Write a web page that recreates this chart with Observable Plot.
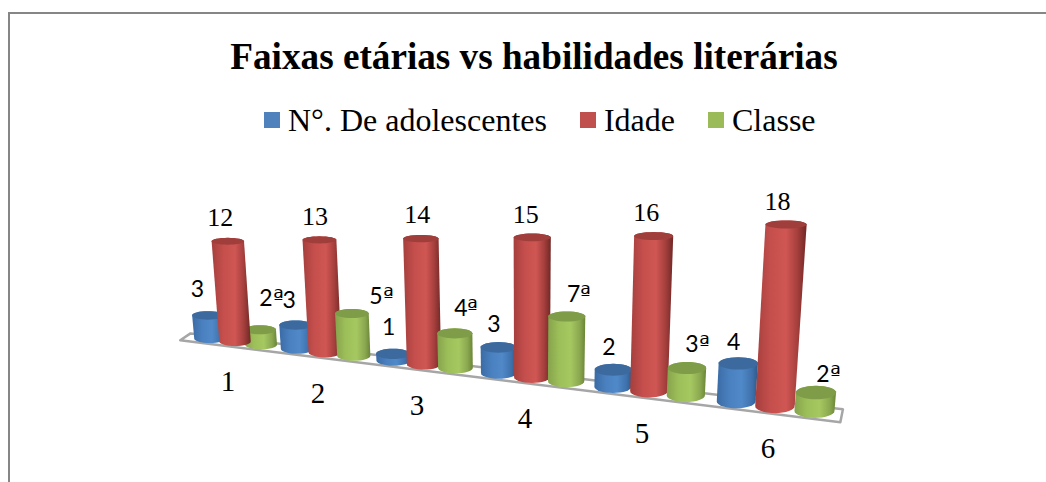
<!DOCTYPE html>
<html>
<head>
<meta charset="utf-8">
<script src="https://cdn.jsdelivr.net/npm/d3@7"></script>
<script src="https://cdn.jsdelivr.net/npm/@observablehq/plot@0.6"></script>
<style>
@font-face{font-family:"OrdMark";src:local("DejaVu Sans");unicode-range:U+AA}
html,body{margin:0;padding:0;background:#fff;overflow:hidden}
#page{position:relative;width:1046px;height:482px;overflow:hidden}
#frame{position:absolute;left:8px;top:12px;right:-4px;bottom:-4px;border:2px solid #868686}
#head{position:relative;height:150px}
#title{position:absolute;left:0;width:1068px;top:35px;text-align:center;font:bold 37.2px "Liberation Serif",serif;line-height:44px;color:#000}
#legend{position:absolute;left:264px;top:100px;display:flex;align-items:center;font:32px "Liberation Serif",serif;line-height:40px;color:#000;white-space:nowrap}
#legend i{display:inline-block;width:16px;height:16px;margin-right:8px}
#legend span{margin-right:33px}
#chart{position:relative}
</style>
</head>
<body>
<div id="page">
  <div id="frame"></div>
  <div id="head"><div id="title"></div><div id="legend"></div></div>
  <div id="chart"></div>
</div>
<script>
// ---- data ----
const titleText = "Faixas etárias vs habilidades literárias";
const categories = [1, 2, 3, 4, 5, 6];
const seriesNames = ["N°. De adolescentes", "Idade", "Classe"];
const adolescentes = [3, 3, 1, 3, 2, 4];
const idade = [12, 13, 14, 15, 16, 18];
const classe = [2, 5, 4, 7, 3, 2];
const adolescentesLabels = ["3", "3", "1", "3", "2", "4"];
const idadeLabels = ["12", "13", "14", "15", "16", "18"];
const classeLabels = ["2ª", "5ª", "4ª", "7ª", "3ª", "2ª"];

// ---- styling / layout (kept apart from the data) ----
const legendColors = ["#4f81bd", "#c0504d", "#9bbb59"];
const capColors = ["#3c6a9f", "#a03e3c", "#7f9c48"];
const gradients = [
  [["0", "#3a6ba5"], [".3", "#4a80bf"], [".6", "#5089c9"], [".85", "#3f72ad"], ["1", "#2f5988"]],
  [["0", "#a53f3d"], [".3", "#c54f4c"], [".6", "#cf5653"], [".82", "#a53f3d"], ["1", "#702826"]],
  [["0", "#86a34c"], [".3", "#9dbf59"], [".6", "#a6c861"], [".85", "#8aa84f"], ["1", "#6a8537"]]
];
const labelFonts = ["Lato", "Liberation Serif", "OrdMark, Lato"];
const labelSizes = [23, 26, 23];
const labelDx = [[-10.5, -6.5, -4.5, -4.5, -4.5, -4.5], [-7.5, -4.5, -3.5, -6.5, -7.5, -8.5], [11.5, 29.5, 11.5, 12.5, 10.5, 12.5]];
const labelDy = [[-25.5, -24.5, -26.5, -22.5, -22.5, -20.5], [-23.5, -23.5, -23.5, -22.5, -23, -23], [-31.5, -16.5, -24.5, -21.5, -23.5, -17.5]];
const seriesOffset = [-0.30, 0, 0.30];
const pxPerX = 85.5, pxPerY = 8.2, svgTop = 150, svgHeight = 332, zeroX = 234.5, zeroY = 346.6;

// ---- perspective projection of the 3D floor into the chart's x/y units ----
const floorX = u => { const t = u - 1; return t + 0.0526 * t * t; };
const floorY = x => -1.293 * x;
const capRatio = y => 0.21 + 0.00084 * (zeroY - pxPerY * y - 240);
const arc = (a0, a1, n = 16) => d3.range(n + 1).map(i => a0 + (a1 - a0) * i / n);

function cylinder(cat, s, value) {
  const x = floorX(cat + seriesOffset[s]);
  const hw = 0.184 + 0.00738 * x;
  const gain = 1.043 * (1 + 0.031 * x);
  const fy = floorY(x);
  const ry = hw * pxPerX * capRatio(fy) / pxPerY;
  const yb = fy + 0.12 + ry;
  const yt = yb + value * gain - 0.3;
  const xt = x + 0.00198 * (x - 3.39) * value * gain;
  const hwTop = hw * (1 + 0.0025 * value);
  const ryTop = hwTop * pxPerX * capRatio(yt) / pxPerY;
  const id = `${s}-${cat}`;
  const body = [
    ...arc(Math.PI, 0).map(a => ({id, x: xt + hwTop * Math.cos(a), y: yt + ryTop * Math.sin(a)})),
    ...arc(0, Math.PI).map(a => ({id, x: x + hw * Math.cos(a), y: yb - ry * Math.sin(a)}))
  ];
  const cap = arc(0, 2 * Math.PI, 32).map(a => ({id, x: xt + hwTop * Math.cos(a), y: yt + ryTop * Math.sin(a)}));
  return {body, cap, xt, yt};
}

const seriesValues = [adolescentes, idade, classe];
const seriesLabels = [adolescentesLabels, idadeLabels, classeLabels];
const cylinders = seriesValues.map((vals, s) => categories.map((c, i) => cylinder(c, s, vals[i])));

const defs = () => {
  const d = d3.create("svg:defs");
  gradients.forEach((stops, s) => {
    const g = d.append("linearGradient").attr("id", `cyl${s}`).attr("x1", 0).attr("x2", 1).attr("y1", 0).attr("y2", 0);
    stops.forEach(([o, c]) => g.append("stop").attr("offset", o).attr("stop-color", c));
  });
  return d.node();
};

// floor outline
const floorStart = -0.64, floorEnd = 7.08;
const floorRows = [
  {x: floorStart, y: floorY(floorStart)},
  {x: floorEnd, y: floorY(floorEnd)},
  {x: floorEnd + 0.03, y: floorY(floorEnd + 0.03) + 1.6},
  {x: floorStart + 0.12, y: floorY(floorStart + 0.12) + 1.0}
];

const cylMarks = (s, list) => [
  Plot.line(list.flatMap(c => c.body), {x: "x", y: "y", z: "id", curve: "linear-closed", fill: `url(#cyl${s})`, stroke: "none"}),
  Plot.line(list.flatMap(c => c.cap), {x: "x", y: "y", z: "id", curve: "linear-closed", fill: capColors[s], stroke: "none"})
];
// the first green cylinder sits behind its red neighbour, the others in front
const barMarks = [
  ...cylMarks(2, cylinders[2].slice(0, 1)),
  ...cylMarks(0, cylinders[0]),
  ...cylMarks(1, cylinders[1]),
  ...cylMarks(2, cylinders[2].slice(1))
];
const labelMarks = seriesValues.flatMap((vals, s) => categories.map((c, i) =>
  Plot.text([{x: cylinders[s][i].xt, y: cylinders[s][i].yt, t: seriesLabels[s][i]}], {
    x: "x", y: "y", text: "t", dx: labelDx[s][i], dy: labelDy[s][i],
    fontFamily: labelFonts[s], fontSize: labelSizes[s], fill: "#000", lineAnchor: "middle", textAnchor: "middle"
  })));
const categoryMark = Plot.text(categories.map(c => ({x: floorX(c), y: floorY(floorX(c)), t: String(c)})), {
  x: "x", y: "y", text: "t", dx: -7, dy: 35, fontFamily: "Liberation Serif", fontSize: 29, fill: "#000",
  lineAnchor: "middle", textAnchor: "middle"
});

const svg = Plot.plot({
  width: 1046,
  height: svgHeight,
  margin: 0,
  style: {background: "transparent"},
  x: {axis: null, domain: [-zeroX / pxPerX, (1046 - zeroX) / pxPerX]},
  y: {axis: null, domain: [(zeroY - svgTop - svgHeight) / pxPerY, (zeroY - svgTop) / pxPerY]},
  marks: [
    defs,
    Plot.line(floorRows, {x: "x", y: "y", curve: "linear-closed", stroke: "#a6a6a6", strokeWidth: 2.5, fill: "#fff"}),
    ...barMarks,
    categoryMark,
    ...labelMarks
  ]
});
document.getElementById("chart").append(svg);
document.getElementById("title").textContent = titleText;
const legend = document.getElementById("legend");
seriesNames.forEach((n, i) => {
  const sw = document.createElement("i");
  sw.style.background = legendColors[i];
  const t = document.createElement("span");
  t.textContent = n;
  legend.append(sw, t);
});
</script>
</body>
</html>
